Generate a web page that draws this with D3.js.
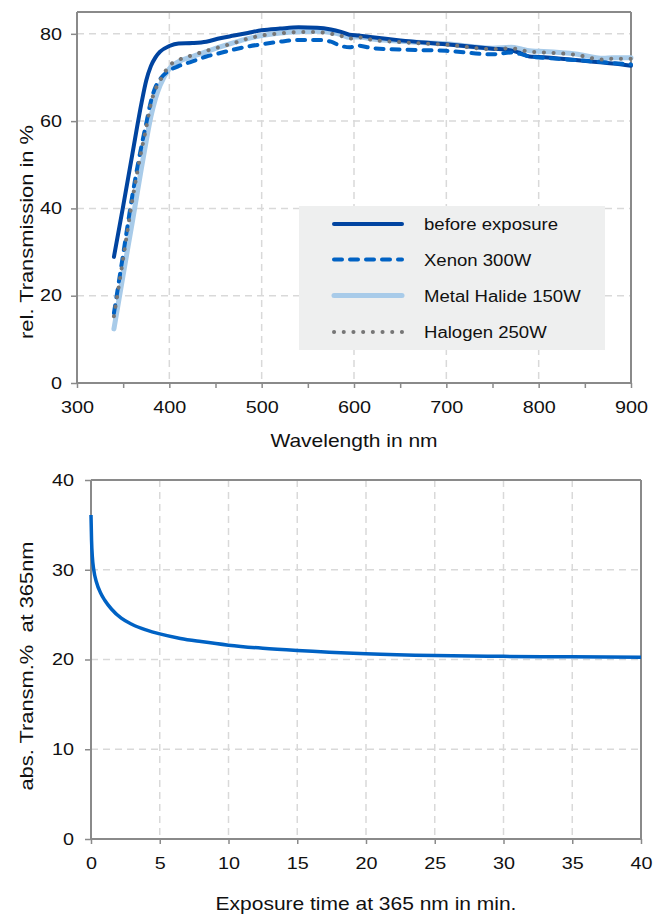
<!DOCTYPE html>
<html>
<head>
<meta charset="utf-8">
<script src="https://cdn.jsdelivr.net/npm/d3@7/dist/d3.min.js"></script>
<style>
  html, body { margin: 0; padding: 0; background: #ffffff; }
  svg { display: block; font-family: "Liberation Sans", Arial, Helvetica, sans-serif; }
</style>
</head>
<body>
<svg id="chart" width="662" height="918"></svg>
<script>
// ---------------- DATA ----------------
const wavelength = [340,350,360,370,375,380,385,390,400,410,425,440,455,470,485,500,520,540,560,575,585,595,605,620,650,700,750,770,780,790,800,840,870,880,900];
const beforeExposure = [28.9,40.5,52.5,64.3,69.3,72.6,74.6,75.9,77.2,77.8,77.9,78.2,79.0,79.6,80.2,80.8,81.2,81.5,81.4,81.0,80.5,79.8,79.6,79.2,78.5,77.6,76.6,76.2,75.6,74.8,74.7,74.0,73.4,73.2,72.7];
const xenon300W = [16.0,29.5,43.0,54.5,59.5,64.5,67.8,69.6,71.6,72.6,73.7,74.8,75.6,76.4,77.1,77.6,78.2,78.6,78.6,78.2,77.3,76.9,77.3,76.7,76.4,76.1,75.3,75.7,75.4,74.8,74.6,74.0,73.5,73.3,73.0];
const metalHalide150W = [12.4,24.8,37.0,49.5,55.5,61.0,65.2,68.2,72.0,73.6,74.8,75.9,77.0,78.0,78.9,79.6,80.2,80.5,80.6,80.3,79.9,79.2,79.3,78.8,78.3,77.7,76.7,76.9,76.6,76.1,76.0,75.4,74.4,74.5,74.5];
const halogen250W = [15.3,28.5,42.0,53.5,58.5,64.0,67.3,69.3,72.7,74.0,75.1,76.1,77.0,77.9,78.9,79.6,80.1,80.4,80.4,80.0,79.6,78.9,79.2,78.6,78.1,77.5,76.5,76.7,76.3,75.9,75.8,75.2,74.1,74.3,74.3];
const seriesNames = ["before exposure", "Xenon 300W", "Metal Halide 150W", "Halogen 250W"];
const xTicksTop = [300,350,400,450,500,550,600,650,700,750,800,850,900];
const yTicksTop = [0,20,40,60,80];

const exposureTime = [0,0.04,0.1,0.2,0.4,0.7,1.0,1.5,2.2,3.0,4.0,5.0,6.5,8.0,10,12.5,15,20,25,30,35,40];
const absTransm365 = [36.1,33.3,31.4,30.0,28.6,27.4,26.6,25.6,24.6,23.9,23.3,22.85,22.35,22.0,21.6,21.25,21.0,20.65,20.45,20.35,20.3,20.25];
const xTicksBottom = [0,5,10,15,20,25,30,35,40];
const yTicksBottom = [0,10,20,30,40];

const xTitleTop = "Wavelength in nm";
const yTitleTop = "rel. Transmission in %";
const xTitleBottom = "Exposure time at 365 nm in min.";
const yTitleBottom = "abs. Transm.%  at 365nm";

// ---------------- STYLES ----------------
const AXIS = "#8a8a8a", GRID = "#d9d9d9", TXT = "#111111";
const seriesStyle = {
  "before exposure":   { color: "#0044a0", width: 4,   dash: null,      cap: "round" },
  "Xenon 300W":        { color: "#0062c4", width: 4,   dash: "8,8",     cap: "round" },
  "Metal Halide 150W": { color: "#a8cbe9", width: 5,   dash: null,      cap: "round" },
  "Halogen 250W":      { color: "#767676", width: 4,   dash: "0.1,9.6", cap: "round" }
};
const SX = 1.2; // horizontal glyph stretch of the reference lettering

const svg = d3.select("#chart");

function stretchText(sel, sx) {
  sel.each(function () {
    const t = d3.select(this);
    const x = +t.attr("x") || 0, y = +t.attr("y") || 0;
    t.attr("x", 0).attr("y", 0).attr("transform", `translate(${x},${y}) scale(${sx},1)`);
  });
}

function drawPanel(cfg) {
  const { left, right, top, bottom, xDomain, yDomain, xTicks, yTicks, xLabelFilter,
          xGrid, yGrid, yPad, xTitle, yTitle, xTitleY, yTitleX, yTitleY } = cfg;
  const x = d3.scaleLinear().domain(xDomain).range([left, right]);
  const y = d3.scaleLinear().domain(yDomain).range([bottom, top]);
  const g = svg.append("g");

  // grid
  g.append("g").selectAll("line").data(yGrid).join("line")
    .attr("x1", left).attr("x2", right).attr("y1", d => y(d)).attr("y2", d => y(d))
    .attr("stroke", GRID).attr("stroke-width", 1.5).attr("stroke-dasharray", "7,5");
  g.append("g").selectAll("line").data(xGrid).join("line")
    .attr("y1", top).attr("y2", bottom).attr("x1", d => x(d)).attr("x2", d => x(d))
    .attr("stroke", GRID).attr("stroke-width", 1.5).attr("stroke-dasharray", "7,5");

  // frame top/right
  g.append("line").attr("x1", left).attr("x2", right).attr("y1", top).attr("y2", top)
    .attr("stroke", AXIS).attr("stroke-width", 2);
  g.append("line").attr("x1", right).attr("x2", right).attr("y1", top).attr("y2", bottom)
    .attr("stroke", AXIS).attr("stroke-width", 2);

  // axes
  const xa = g.append("g").attr("transform", `translate(0,${bottom})`)
    .call(d3.axisBottom(x).tickValues(xTicks).tickSize(5).tickPadding(13)
      .tickFormat(d => xLabelFilter(d) ? d : ""));
  const ya = g.append("g").attr("transform", `translate(${left},0)`)
    .call(d3.axisLeft(y).tickValues(yTicks).tickSize(6).tickPadding(yPad));
  [xa, ya].forEach(a => {
    a.select(".domain").attr("stroke", AXIS).attr("stroke-width", 2)
      .attr("d", a === xa ? `M${left},0H${right}` : `M0,${bottom}V${top}`);
    a.selectAll(".tick line").attr("stroke", AXIS).attr("stroke-width", 1.5);
    a.selectAll(".tick text").attr("fill", TXT).attr("font-size", 16.5)
      .attr("font-family", '"Liberation Sans", Arial, sans-serif');
    stretchText(a.selectAll(".tick text"), SX);
  });

  // titles
  g.append("text").attr("text-anchor", "middle").attr("fill", TXT).attr("font-size", 17.5)
    .attr("transform", `translate(${(left + right) / 2},${xTitleY}) scale(${SX},1)`)
    .text(xTitle);
  g.append("text").attr("text-anchor", "middle").attr("fill", TXT).attr("font-size", 17.5)
    .style("white-space", "pre").attr("xml:space", "preserve")
    .attr("transform", `translate(${yTitleX},${yTitleY}) rotate(-90) scale(1.25,1)`)
    .text(yTitle);

  return { x, y, g };
}

// ---------------- TOP PANEL ----------------
const P1 = drawPanel({
  left: 77, right: 631, top: 12, bottom: 383,
  xDomain: [300, 900], yDomain: [0, 85],
  xTicks: xTicksTop, yTicks: yTicksTop, xLabelFilter: d => d % 100 === 0,
  xGrid: [400, 500, 600, 700, 800], yGrid: [20, 40, 60, 80], yPad: 9,
  xTitle: xTitleTop, yTitle: yTitleTop, xTitleY: 447, yTitleX: 33, yTitleY: 232
});

const seriesValues = {
  "before exposure": beforeExposure,
  "Xenon 300W": xenon300W,
  "Metal Halide 150W": metalHalide150W,
  "Halogen 250W": halogen250W
};
const drawOrder = ["Metal Halide 150W", "before exposure", "Xenon 300W", "Halogen 250W"];
const line1 = d3.line().x(d => P1.x(d[0])).y(d => P1.y(d[1])).curve(d3.curveMonotoneX);
drawOrder.forEach(name => {
  const st = seriesStyle[name];
  P1.g.append("path")
    .datum(wavelength.map((w, i) => [w, seriesValues[name][i]]))
    .attr("d", line1).attr("fill", "none")
    .attr("stroke", st.color).attr("stroke-width", st.width)
    .attr("stroke-linecap", st.cap).attr("stroke-linejoin", "round")
    .attr("stroke-dasharray", st.dash);
});

// legend
const leg = P1.g.append("g");
leg.append("rect").attr("x", 299).attr("y", 206).attr("width", 306).attr("height", 144)
  .attr("fill", "#eeefef");
const legRows = [224, 259.5, 295.5, 332];
seriesNames.forEach((name, i) => {
  const st = seriesStyle[name];
  leg.append("line").attr("x1", 334).attr("x2", 402).attr("y1", legRows[i]).attr("y2", legRows[i])
    .attr("stroke", st.color).attr("stroke-width", st.width).attr("stroke-linecap", st.cap)
    .attr("stroke-dasharray", st.dash);
  leg.append("text").attr("fill", TXT).attr("font-size", 16)
    .attr("transform", `translate(424,${legRows[i] + 6}) scale(1.16,1)`)
    .text(name);
});

// ---------------- BOTTOM PANEL ----------------
const P2 = drawPanel({
  left: 91, right: 641, top: 480, bottom: 839,
  xDomain: [0, 40], yDomain: [0, 40],
  xTicks: xTicksBottom, yTicks: yTicksBottom, xLabelFilter: () => true,
  xGrid: [5, 10, 15, 20, 25, 30, 35], yGrid: [10, 20, 30], yPad: 11,
  xTitle: xTitleBottom, yTitle: yTitleBottom, xTitleY: 910, yTitleX: 33, yTitleY: 666
});
const line2 = d3.line().x(d => P2.x(d[0])).y(d => P2.y(d[1])).curve(d3.curveMonotoneX);
P2.g.append("path")
  .datum(exposureTime.map((t, i) => [t, absTransm365[i]]))
  .attr("d", line2).attr("fill", "none")
  .attr("stroke", "#0062c4").attr("stroke-width", 3.5).attr("stroke-linecap", "butt");
</script>
</body>
</html>
